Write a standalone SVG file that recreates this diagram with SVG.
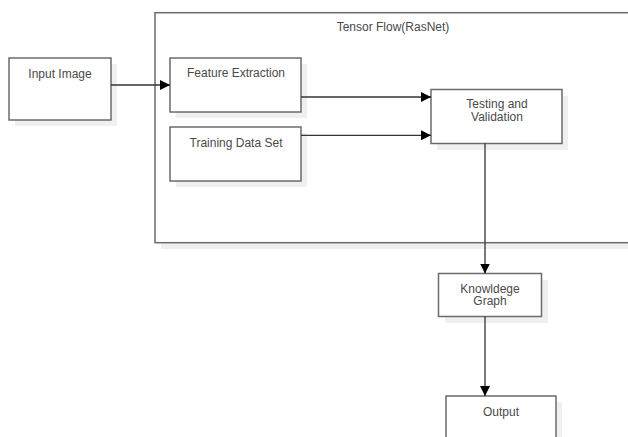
<svg xmlns="http://www.w3.org/2000/svg" width="628" height="437" viewBox="0 0 628 437">
<style>
.box{fill:#fff;stroke:#6b6b6b;stroke-width:1.5}
.sh{fill:#efefef}
.t{font-family:"Liberation Sans",Arial,sans-serif;font-size:12px;fill:#4a4a4a;text-anchor:middle}
.c{fill:none;stroke:#333;stroke-width:1.3}
</style>
<defs>
<marker id="a" viewBox="0 0 10 10" refX="10" refY="5" markerWidth="10" markerHeight="10" markerUnits="userSpaceOnUse" orient="auto">
<path d="M0,0 L10,5 L0,10 Z" fill="#000"/>
</marker>
</defs>
<rect width="628" height="437" fill="#fff"/>
<g id="container">
<rect class="sh" x="161" y="19" width="480" height="230"/>
<rect class="box" x="155" y="12.7" width="480" height="230"/>
<text class="t" x="393" y="31">Tensor Flow(RasNet)</text>
</g>
<g id="input">
<rect class="sh" x="15" y="64" width="102" height="62"/>
<rect class="box" x="9" y="58" width="102" height="62"/>
<text class="t" x="60" y="78">Input Image</text>
</g>
<g id="feature">
<rect class="sh" x="176" y="64" width="131" height="54"/>
<rect class="box" x="170" y="58" width="131" height="54"/>
<text class="t" x="236" y="77">Feature Extraction</text>
</g>
<g id="training">
<rect class="sh" x="176" y="133" width="131" height="54"/>
<rect class="box" x="170" y="127" width="131" height="54"/>
<text class="t" x="236" y="147">Training Data Set</text>
</g>
<g id="testing">
<rect class="sh" x="437" y="96" width="131" height="54"/>
<rect class="box" x="431" y="89.5" width="131" height="54"/>
<text class="t" x="497" y="108">Testing and</text>
<text class="t" x="497" y="120.7">Validation</text>
</g>
<g id="knowledge">
<rect class="sh" x="445" y="280" width="103" height="43"/>
<rect class="box" x="438.5" y="273.5" width="103" height="43"/>
<text class="t" x="490" y="292.5">Knowldege</text>
<text class="t" x="490" y="305.3">Graph</text>
</g>
<g id="output">
<rect class="sh" x="452" y="402" width="110" height="50"/>
<rect class="box" x="446" y="396" width="110" height="50"/>
<text class="t" x="501" y="416">Output</text>
</g>
<g id="connectors">
<path class="c" d="M111,85 H170" marker-end="url(#a)"/>
<path class="c" d="M301,97 H431" marker-end="url(#a)"/>
<path class="c" d="M301,135.3 H431" marker-end="url(#a)"/>
<path class="c" d="M485,143.5 V273.5" marker-end="url(#a)"/>
<path class="c" d="M485,316.5 V396" marker-end="url(#a)"/>
</g>
</svg>
